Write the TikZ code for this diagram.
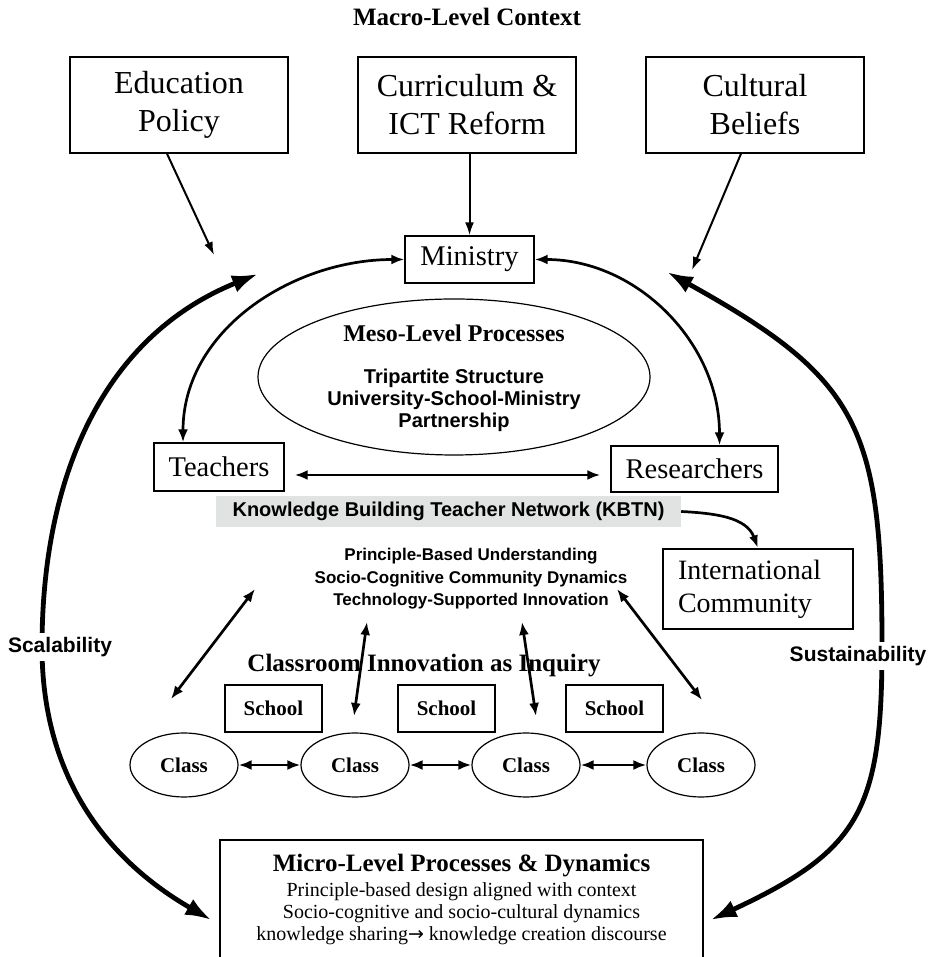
\documentclass[tikz,border=0pt]{standalone}
\usepackage{fontspec}
\setmainfont{Liberation Serif}
\setsansfont{Liberation Sans}
\newfontfamily\arrowfont{DejaVu Sans}
\usetikzlibrary{arrows.meta, shapes.geometric}
\definecolor{band}{RGB}{225,226,226}
\newcommand{\fsz}[2]{\fontsize{#1}{#2}\selectfont}
\tikzset{
  macrobox/.style={draw, line width=1.4pt, minimum width=218pt, minimum height=96pt,
                   inner sep=0pt, align=center, font=\fsz{32}{38}},
  actor/.style={draw, line width=1.4pt, inner sep=0pt, minimum height=47pt, font=\fsz{28.5}{33}},
  school/.style={draw, line width=1.4pt, inner sep=0pt, minimum width=97pt, minimum height=47pt,
                 font=\bfseries\fsz{21}{24}},
  classnode/.style={draw, ellipse, line width=1.2pt, inner sep=0pt, minimum width=108pt,
                    minimum height=64pt, font=\bfseries\fsz{21}{24}},
  heading/.style={font=\bfseries\fsz{25}{30}},
  sanslab/.style={font=\sffamily\bfseries\fsz{20}{22}, align=center},
  drive/.style={-{Latex[length=13pt,width=9pt]}, line width=2pt},
  duplex/.style={{Latex[length=13pt,width=10pt]}-{Latex[length=13pt,width=10pt]}, line width=2.7pt},
  loopline/.style={{Latex[length=26pt,width=18pt]}-{Latex[length=26pt,width=18pt]}, line width=4.8pt},
  cyclelab/.style={fill=white, inner sep=4pt, font=\sffamily\bfseries\fsz{21}{24}}
}

\begin{document}
\begin{tikzpicture}[x=1pt, y=1pt]
  \useasboundingbox (0,0) rectangle (933,957);
  % macro level
  \node[heading] (macro) at (467,940) {Macro-Level Context};
  \node[macrobox] (edu) at (179,852) {Education\\Policy};
  \node[macrobox] (cur) at (467,852) {Curriculum \&\\ICT Reform};
  \node[macrobox] (cul) at (755,852) {Cultural\\Beliefs};
  \node[actor, minimum width=129pt] (mini) at (469.5,697.5) {Ministry};
  % meso level
  \node[draw, ellipse, line width=1.2pt, minimum width=392pt, minimum height=156pt] (meso) at (454,580) {};
  \node[heading, font=\bfseries\fsz{24}{28}] (mesotitle) at ([yshift=44pt]meso.center) {Meso-Level Processes};
  \node[sanslab] (tripart) at ([yshift=-23pt]meso.center) {Tripartite Structure\\University-School-Ministry\\Partnership};
  \node[actor, minimum width=130pt, minimum height=48pt] (teach) at (219,490) {Teachers};
  \node[actor, minimum width=167pt, minimum height=46pt] (res) at (694.5,488) {Researchers};
  \node[fill=band, minimum width=465pt, minimum height=31pt, inner sep=0pt,
        font=\sffamily\bfseries\fsz{20}{22}] (kbtn) at (448.5,445.5) {Knowledge Building Teacher Network (KBTN)};
  \node[actor, minimum width=190pt, minimum height=80pt, text width=160pt, inner xsep=15pt,
        align=left, font=\fsz{28}{33}] (intl) at (758,368) {International\\Community};
  % classroom level
  \node[sanslab, font=\sffamily\bfseries\fsz{17}{22.5}] (princ) at (471,378)
    {Principle-Based Understanding\\Socio-Cognitive Community Dynamics\\Technology-Supported Innovation};
  \node[heading] (inquiry) at (424,291) {Classroom Innovation as Inquiry};
  \foreach \i/\x in {1/273.5, 2/446.5, 3/614.5}
    \node[school] (sch\i) at (\x,248.5) {School};
  \foreach \i/\x in {1/184, 2/355, 3/526, 4/701}
    \node[classnode] (cls\i) at (\x,192) {Class};
  % micro level
  \node[draw, line width=1.4pt, minimum width=483pt, minimum height=160pt] (micro) at (461.5,37) {};
  \node[align=center, font=\fsz{20}{22}] (microtext) at (461.5,58)
    {{\bfseries\fsz{25}{30}Micro-Level Processes \& Dynamics}\\[3pt]Principle-based design aligned with context\\
     Socio-cognitive and socio-cultural dynamics\\knowledge sharing{\arrowfont\fsz{19}{22}→} knowledge creation discourse};

  \coordinate (eduend) at (214,702);
  \coordinate (culend) at (692,687);
  \coordinate (scaletop) at (258,683);
  \coordinate (scalemid) at (42,310);
  \coordinate (sustop) at (667,685);
  \coordinate (susmid) at (882,310);
  \coordinate (pl) at (255,368);
  \coordinate (cl) at (171,258);
  \coordinate (pm1) at (367,335);
  \coordinate (cm1) at (354,241);
  \coordinate (pm2) at (522,335);
  \coordinate (cm2) at (536,241);
  \coordinate (pr) at (617,368);
  \coordinate (cr) at (702,257);

  \draw[drive] ([xshift=-12pt]edu.south) -- (eduend);
  \draw[drive] (mini.north |- cur.south) -- (mini.north);
  \draw[drive] ([xshift=-14pt]cul.south) -- (culend);
  \draw[duplex] (mini.west) to[out=180, in=90] ([xshift=-36pt]teach.north);
  \draw[duplex] (mini.east) to[out=0, in=90] ([xshift=25pt]res.north);
  \draw[duplex, shorten <=10pt, shorten >=10pt] ([yshift=-8pt]teach.east) -- ([yshift=-8pt]teach.east -| res.west);
  \draw[drive, line width=2.7pt] (kbtn.east) to[out=-3, in=110] (intl.north);
  \foreach \a/\b in {pl/cl, pm1/cm1, pm2/cm2, pr/cr}
    \draw[duplex] (\a) -- (\b);
  \foreach \a/\b in {1/2, 2/3, 3/4}
    \draw[duplex] (cls\a) -- (cls\b);
  \draw[loopline] (scaletop) to[out=202, in=90] (scalemid) to[out=-90, in=150] ([xshift=-8pt]micro.west);
  \draw[loopline] (sustop) to[out=-29, in=90, looseness=1.3] (susmid)
    to[out=-90, in=25, looseness=1.3] ([xshift=7pt]micro.east);
  \node[cyclelab] (scal) at (60,310) {Scalability};
  \node[cyclelab] (sust) at (858,301) {Sustainability};
\end{tikzpicture}
\end{document}
